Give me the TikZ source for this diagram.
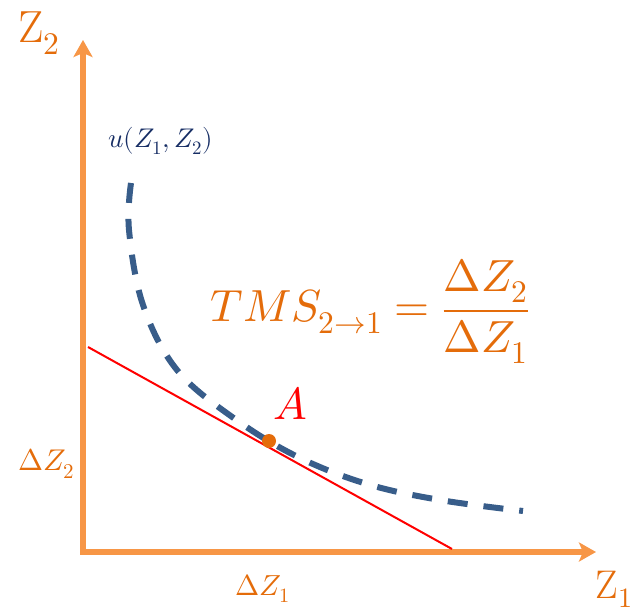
\documentclass[tikz,border=0pt]{standalone}
\usepackage{unicode-math}
\setmathfont{Latin Modern Math}
\usetikzlibrary{arrows.meta}
\definecolor{axisor}{RGB}{247,150,70}
\definecolor{txtor}{RGB}{228,108,10}
\definecolor{curveblue}{RGB}{56,93,138}
\definecolor{navyblue}{RGB}{22,45,100}
\begin{document}
\begin{tikzpicture}[x=1pt,y=-1pt,
  axisline/.style={draw=axisor,line width=6pt,line join=miter,
    {Stealth[length=17pt,width=19pt,inset=4pt]}-{Stealth[length=17pt,width=19pt,inset=4pt]}},
  curvestyle/.style={draw=curveblue,line width=6pt,dash pattern=on 20pt off 16pt},
  tangent/.style={draw=red,line width=2pt},
  lbl/.style={inner sep=0pt,anchor=base west}]
\useasboundingbox (0,0) rectangle (635,612);
\coordinate (O) at (83,552);
\coordinate (Ytip) at (83,40);
\coordinate (Xtip) at (596,552);
\draw[axisline] (Ytip) -- (O) -- (Xtip);
% labels
\node[lbl,text=txtor,font=\fontsize{45}{50}\selectfont] (z2) at (18,43) {$\mathrm{Z}_2$};
\node[inner sep=0pt,anchor=base east,text=txtor,font=\fontsize{40}{46}\selectfont] (z1) at (633,598) {$\mathrm{Z}_1$};
\node[lbl,text=navyblue,font=\fontsize{27}{32}\selectfont] (u) at (108,148) {$u(Z_1,Z_2)$};
\node[lbl,text=txtor,font=\fontsize{45}{50}\selectfont] (tms) at (210,322) {$TMS_{2\to1}=\dfrac{\Delta Z_2}{\Delta Z_1}$};
\node[lbl,text=txtor,font=\fontsize{30}{34}\selectfont] (dz2) at (18,471) {$\Delta Z_2$};
\node[lbl,text=txtor,font=\fontsize{29}{33}\selectfont] (dz1) at (235,595) {$\Delta Z_1$};
% tangent line
\coordinate (T1) at (88,347);
\coordinate (T2) at (452,549);
\draw[tangent] (T1) -- (T2);
% indifference curve
\draw[curvestyle] plot[smooth,tension=0.6] coordinates {(131,183) (129,230) (143,305) (177,370) (235,419) (298,457) (367,484) (440,500) (523,511)};
% point A
\node[circle,fill=txtor,minimum size=14pt,inner sep=0pt] (A) at (269,441) {};
\node[lbl,text=red,font=\fontsize{45}{50}\selectfont] (Alab) at (273,420) {$A$};
\end{tikzpicture}
\end{document}
